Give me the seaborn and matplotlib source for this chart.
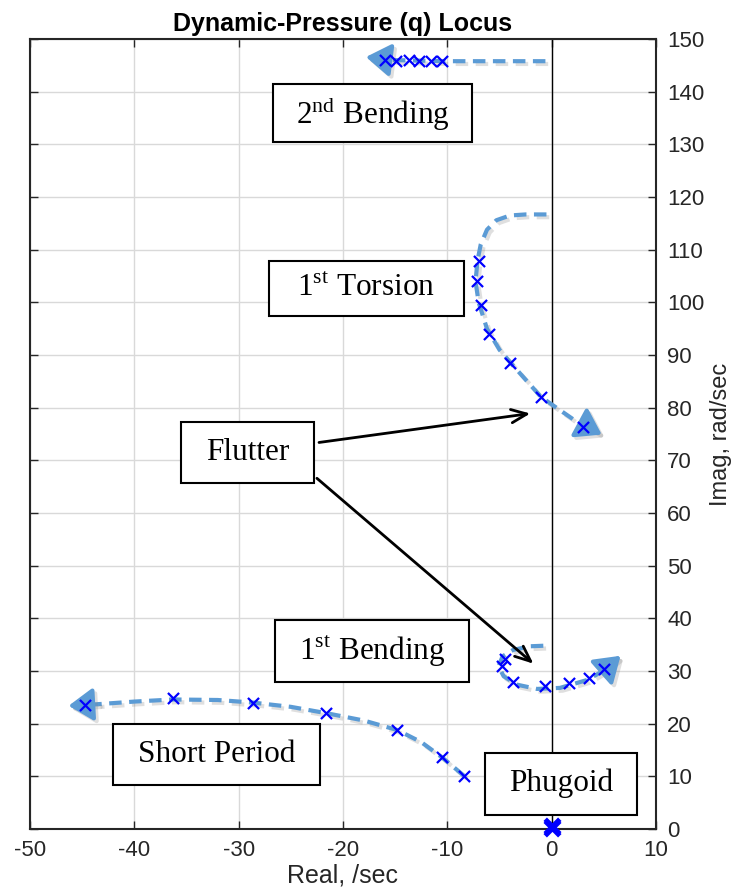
import matplotlib
matplotlib.use("Agg")
import matplotlib.pyplot as plt
import matplotlib.patheffects as pe
from matplotlib.patches import Rectangle
import seaborn as sns

# --- pole locations (real /sec, imag rad/sec) ---
bend2_re = [-16.0, -14.9, -13.7, -12.7, -11.6, -10.5]
bend2_im = [146.0, 145.8, 146.0, 145.8, 145.9, 145.8]

tors_re = [-7.0, -7.2, -6.8, -6.0, -4.0, -1.0, 3.0]
tors_im = [107.9, 104.0, 99.5, 94.0, 88.4, 82.0, 76.3]

bend1_re = [-4.5, -4.8, -3.7, -0.6, 1.7, 3.6, 5.0]
bend1_im = [32.3, 31.0, 28.0, 27.1, 27.7, 28.6, 30.4]

short_re = [-44.7, -36.3, -28.6, -21.6, -14.8, -10.5, -8.4]
short_im = [23.6, 24.8, 24.0, 22.0, 18.8, 13.6, 10.1]

phug_re = [0.0, 0.0]
phug_im = [0.2, 0.5]

# --- hand-drawn trend curves (dashed, with arrows) ---
c_bend2 = ([-0.6, -5.0, -10.0, -15.0, -15.8], [145.8, 145.8, 145.8, 146.0, 146.1])
c_tors = ([-0.5, -2.5, -4.0, -5.3, -6.2, -6.8, -7.1, -7.3, -7.0, -6.2, -5.0, -3.7, -1.0, 2.5, 3.4],
          [116.7, 116.7, 116.5, 115.6, 113.8, 111.0, 108.0, 104.0, 100.0, 95.0, 91.0, 88.0, 82.0, 77.2, 76.4])
c_bend1 = ([-0.8, -2.1, -3.7, -4.7, -5.1, -4.6, -3.3, -1.4, 0.8, 3.4, 5.0],
           [34.8, 34.7, 34.0, 32.8, 30.9, 29.0, 27.4, 26.6, 26.8, 28.3, 30.1])
c_short = ([-8.4, -10.5, -12.5, -14.8, -18.0, -21.6, -25.0, -28.6, -32.0, -36.3, -40.0, -43.5],
           [10.1, 13.6, 16.5, 18.8, 20.6, 22.0, 23.2, 24.0, 24.5, 24.6, 24.2, 23.7])
arrow_tips = [(-17.8, 146.6), (4.8, 74.9), (6.6, 32.9), (-46.3, 23.4)]

labels = ["2$^{\\rm nd}$ Bending", "1$^{\\rm st}$ Torsion", "Flutter",
          "1$^{\\rm st}$ Bending", "Short Period", "Phugoid"]
boxes = [(-26.7, 130.5, 19.1, 10.9), (-27.1, 97.4, 18.7, 10.5), (-35.5, 65.7, 12.7, 11.5),
         (-26.5, 28.0, 18.6, 11.7), (-42.0, 8.4, 19.8, 11.6), (-6.4, 2.7, 14.6, 11.8)]
flutter_arrows = [((-22.3, 73.4), (-2.05, 78.9)), ((-22.5, 66.6), (-1.75, 31.4))]

sns.set_theme(style="white")
plt.rcParams["font.family"] = ["Liberation Sans", "DejaVu Sans"]
plt.rcParams["axes.unicode_minus"] = False
plt.rcParams["mathtext.fontset"] = "custom"
plt.rcParams["mathtext.rm"] = "Liberation Serif"

fig = plt.figure(figsize=(7.37, 8.92), dpi=100)
ax = fig.add_axes([0.0407, 0.0706, 0.8494, 0.8856])

curve_col = "#5b9bd5"
shadow = [pe.SimpleLineShadow(offset=(2, -2), shadow_color="gray", alpha=0.25), pe.Normal()]

ax.axvline(0, color="black", lw=1, zorder=2)

for cx, cy in [c_bend2, c_tors, c_bend1, c_short]:
    sns.lineplot(x=cx, y=cy, sort=False, estimator=None, color=curve_col, lw=3,
                 linestyle=(0, (3, 1.8)), ax=ax, zorder=3, path_effects=shadow)

for (cx, cy), tip in zip([c_bend2, c_tors, c_bend1, c_short], arrow_tips):
    ax.annotate("", xy=tip, xytext=(cx[-1], cy[-1]),
                arrowprops=dict(arrowstyle="-|>,head_length=0.75,head_width=0.5",
                                color=curve_col, lw=3, shrinkA=0, shrinkB=0,
                                mutation_scale=20, path_effects=shadow),
                zorder=3)

for xs, ys in [(bend2_re, bend2_im), (tors_re, tors_im), (bend1_re, bend1_im), (short_re, short_im)]:
    sns.scatterplot(x=xs, y=ys, marker="x", s=64, color="#0000ff", linewidth=1.6, ax=ax, zorder=4)
sns.scatterplot(x=phug_re, y=phug_im, marker="x", s=110, color="#0000ff", linewidth=3.5,
                ax=ax, zorder=6, clip_on=False)

for (x0, y0, w, h), txt in zip(boxes, labels):
    ax.add_patch(Rectangle((x0, y0), w, h, facecolor="white", edgecolor="black", lw=1.5, zorder=5))
    ax.text(x0 + w / 2, y0 + h / 2, txt, ha="center", va="center", fontsize=22.5,
            family="Liberation Serif", color="black", zorder=6)

for start, end in flutter_arrows:
    ax.annotate("", xy=end, xytext=start,
                arrowprops=dict(arrowstyle="->,head_length=0.7,head_width=0.3", color="black",
                                lw=2, shrinkA=0, shrinkB=0, mutation_scale=16), zorder=6)

ax.set_xlim(-50, 10)
ax.set_ylim(0, 150)
ax.set_xticks(range(-50, 11, 10))
ax.set_yticks(range(0, 151, 10))
ax.grid(True, color="#d9d9d9", lw=1)
ax.set_axisbelow(True)
ax.yaxis.tick_right()
ax.yaxis.set_label_position("right")
ax.tick_params(which="both", direction="in", length=6, width=1, top=True, bottom=True,
               left=True, right=True, labelleft=False, labelright=True, labelsize=16,
               colors="#262626", pad=8)
for sp in ax.spines.values():
    sp.set_color("#262626")
    sp.set_linewidth(1.5)

ax.set_xlabel("Real, /sec", fontsize=18, color="#262626", labelpad=2)
ax.set_ylabel("Imag, rad/sec", fontsize=17, color="#262626", labelpad=4)
ax.set_title("Dynamic-Pressure (q) Locus", fontsize=18, fontweight="bold", color="black", pad=6)

fig.savefig("out.png", dpi=100)
